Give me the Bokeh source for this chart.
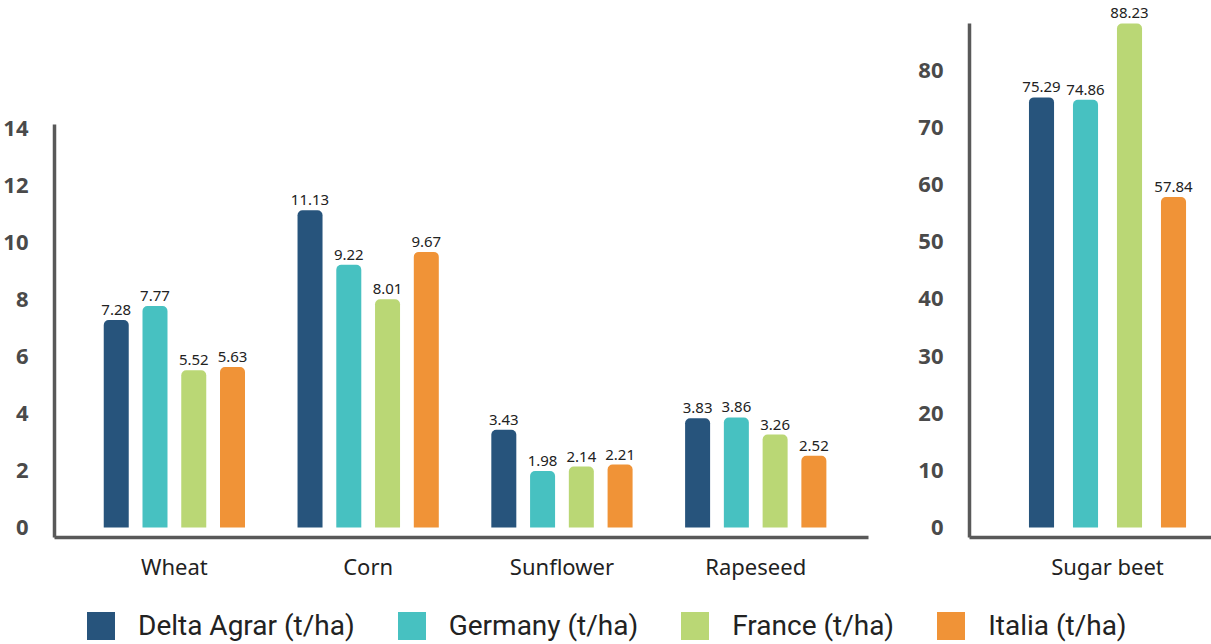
from bokeh.plotting import figure
from bokeh.layouts import column, row
from bokeh.models import Range1d, FixedTicker, ColumnDataSource, Legend, LegendItem
from bokeh.core.properties import value
from bokeh.embed import file_html
from bokeh.resources import INLINE

# Yields in tonnes per hectare
crops = ["Wheat", "Corn", "Sunflower", "Rapeseed"]
series = ["Delta Agrar (t/ha)", "Germany (t/ha)", "France (t/ha)", "Italia (t/ha)"]
delta_agrar = [7.28, 11.13, 3.43, 3.83]
germany = [7.77, 9.22, 1.98, 3.86]
france = [5.52, 8.01, 2.14, 3.26]
italia = [5.63, 9.67, 2.21, 2.52]

beet_crop = ["Sugar beet"]
sugar_beet = [75.29, 74.86, 88.23, 57.84]  # Delta Agrar, Germany, France, Italia

left_ticks = [0, 2, 4, 6, 8, 10, 12, 14]
right_ticks = [0, 10, 20, 30, 40, 50, 60, 70, 80]

colors = ["#27547c", "#47c1c1", "#bad775", "#f09337"]
offsets = [-0.3, -0.1, 0.1, 0.3]

AXIS_COLOR = "#595959"
TEXT_FONT = "Noto Sans"


def style_axes(p, ticks, labels, xbounds, ybounds):
    p.xgrid.grid_line_color = None
    p.ygrid.grid_line_color = None
    p.outline_line_color = None
    for ax in (p.xaxis[0], p.yaxis[0]):
        ax.axis_line_color = AXIS_COLOR
        ax.axis_line_width = 3.5
        ax.major_tick_line_color = None
        ax.minor_tick_line_color = None
    p.yaxis.ticker = FixedTicker(ticks=ticks)
    p.yaxis.major_label_text_font = TEXT_FONT
    p.yaxis.major_label_text_font_style = "bold"
    p.yaxis.major_label_text_font_size = "22px"
    p.yaxis.major_label_text_color = "#4a4a4a"
    p.yaxis.major_label_standoff = 20
    p.yaxis.bounds = ybounds
    positions = list(range(1, len(labels) + 1))
    p.xaxis.ticker = FixedTicker(ticks=positions)
    p.xaxis.major_label_overrides = {pos: lab for pos, lab in zip(positions, labels)}
    p.xaxis.major_label_text_font = TEXT_FONT
    p.xaxis.major_label_text_font_size = "22px"
    p.xaxis.major_label_text_color = "#222222"
    p.xaxis.major_label_standoff = 7
    p.xaxis.bounds = xbounds


def draw_bars(p, groups, values, width):
    for k, (vals, color) in enumerate(zip(values, colors)):
        xs = [g + offsets[k] for g in groups]
        src = ColumnDataSource(dict(x=xs, top=vals, label=[f"{v:.2f}" for v in vals]))
        p.vbar(x="x", top="top", bottom=0, width=width, source=src,
               fill_color=color, line_color=None, border_radius=(5, 5, 0, 0))
        p.text(x="x", y="top", text="label", source=src, text_align="center",
               text_baseline="bottom", y_offset=-5, text_font=value(TEXT_FONT),
               text_font_size="15px", text_color="#222222")


# ---- main yields chart ----
left = figure(width=900, height=590, output_backend="svg", toolbar_location=None,
              x_range=Range1d(0.3814, 4.747), y_range=Range1d(-0.351, 18.49),
              min_border_left=53, min_border_right=0, min_border_top=0,
              min_border_bottom=53)
style_axes(left, left_ticks, crops, (0.3814, 4.58), (-0.351, 14.14))
groups = list(range(1, len(crops) + 1))
draw_bars(left, groups, [delta_agrar, germany, france, italia], 0.129)

# ---- sugar beet chart ----
right = figure(width=311, height=590, output_backend="svg", toolbar_location=None,
               x_range=Range1d(0.3727, 1.4727), y_range=Range1d(-1.75, 92.25),
               min_border_left=69, min_border_right=0, min_border_top=0,
               min_border_bottom=53)
style_axes(right, right_ticks, beet_crop, (0.3727, 1.4727), (-1.75, 88.23))
draw_bars(right, [1], [[v] for v in sugar_beet], 0.114)

# ---- legend strip ----
leg = figure(width=1211, height=54, output_backend="svg", toolbar_location=None,
             x_range=Range1d(0, 1), y_range=Range1d(0, 1),
             x_axis_location=None, y_axis_location=None,
             min_border=0)
leg.outline_line_color = None
leg.xgrid.grid_line_color = None
leg.ygrid.grid_line_color = None
items = []
for name, color in zip(series, colors):
    # zero-height swatch carriers: only their legend glyphs are visible
    r = leg.vbar(x=[0.5], top=[0], bottom=0, width=0.0, fill_color=color, line_color=None)
    items.append(LegendItem(label=name, renderers=[r]))
legend = Legend(items=items, orientation="horizontal", location=(83, 1),
                glyph_width=35, glyph_height=35, label_standoff=20, spacing=39,
                padding=0, margin=0, border_line_alpha=0, background_fill_alpha=0,
                label_text_font="Roboto", label_text_font_size="28px",
                label_text_color="#222222")
leg.add_layout(legend, "center")

layout = column(row(left, right, spacing=0), leg, spacing=0)

with open("out.html", "w") as f:
    f.write(file_html(layout, INLINE))
